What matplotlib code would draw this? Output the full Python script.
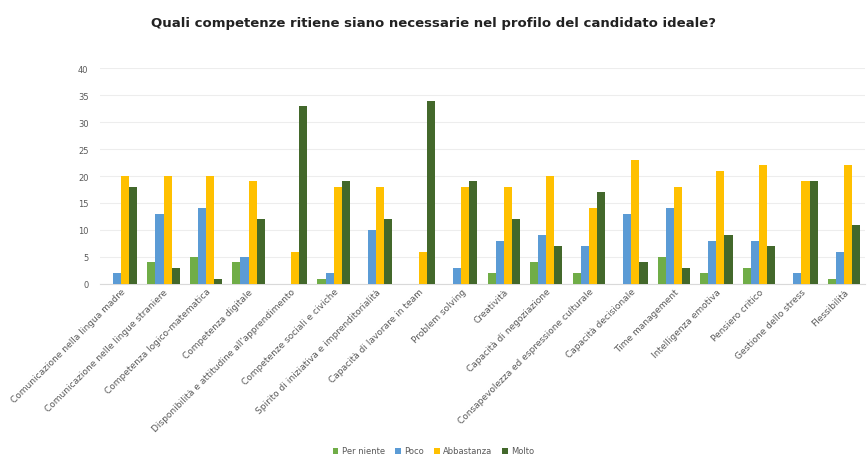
import numpy as np
import matplotlib.pyplot as plt

# risposte al questionario: quante persone per ogni livello di importanza
competenze = [
    "Comunicazione nella lingua madre",
    "Comunicazione nelle lingue straniere",
    "Competenza logico-matematica",
    "Competenza digitale",
    "Disponibilità e attitudine all'apprendimento",
    "Competenze sociali e civiche",
    "Spirito di iniziativa e imprenditorialità",
    "Capacità di lavorare in team",
    "Problem solving",
    "Creatività",
    "Capacità di negoziazione",
    "Consapevolezza ed espressione culturale",
    "Capacità decisionale",
    "Time management",
    "Intelligenza emotiva",
    "Pensiero critico",
    "Gestione dello stress",
    "Flessibilità",
]
per_niente = [0, 4, 5, 4, 0, 1, 0, 0, 0, 2, 4, 2, 0, 5, 2, 3, 0, 1]
poco       = [2, 13, 14, 5, 0, 2, 10, 0, 3, 8, 9, 7, 13, 14, 8, 8, 2, 6]
abbastanza = [20, 20, 20, 19, 6, 18, 18, 6, 18, 18, 20, 14, 23, 18, 21, 22, 19, 22]
molto      = [18, 3, 1, 12, 33, 19, 12, 34, 19, 12, 7, 17, 4, 3, 9, 7, 19, 11]

serie = [per_niente, poco, abbastanza, molto]
nomi = ["Per niente", "Poco", "Abbastanza", "Molto"]
colori = ["#70AD47", "#5B9BD5", "#FFC000", "#43682B"]
y_ticks = [0, 5, 10, 15, 20, 25, 30, 35, 40]

fig = plt.figure(figsize=(8.67, 4.64), dpi=100)
ax = fig.add_axes([0.115, 0.386, 0.883, 0.465])

x = np.arange(len(competenze))
w = 0.19
for i, (vals, nome, col) in enumerate(zip(serie, nomi, colori)):
    ax.bar(x + (i - 1.5) * w, vals, width=w, color=col, label=nome, zorder=3)

ax.set_ylim(0, 40)
ax.set_xlim(-0.5, len(competenze) - 0.5)
ax.set_yticks(y_ticks)
ax.tick_params(axis="y", length=0, labelsize=6, labelcolor="#595959", pad=8)
ax.tick_params(axis="x", length=0, pad=2)
ax.set_xticks(x)
ax.set_xticklabels(competenze, rotation=45, ha="right", rotation_mode="anchor",
                   fontsize=6.5, color="#595959")
ax.grid(axis="y", color="#EDEDED", linewidth=0.8, zorder=0)
for s in ["top", "right", "left"]:
    ax.spines[s].set_visible(False)
ax.spines["bottom"].set_color("#D9D9D9")

fig.text(0.5, 0.95, "Quali competenze ritiene siano necessarie nel profilo del candidato ideale?",
         ha="center", va="center", fontsize=9.5, fontweight="bold", color="#222222")

fig.legend(loc="lower center", bbox_to_anchor=(0.5, 0.0), ncol=4, frameon=False,
           fontsize=6, handlelength=0.7, handleheight=0.7, columnspacing=1.2,
           handletextpad=0.4, labelcolor="#595959")

fig.savefig("out.png", dpi=100)
